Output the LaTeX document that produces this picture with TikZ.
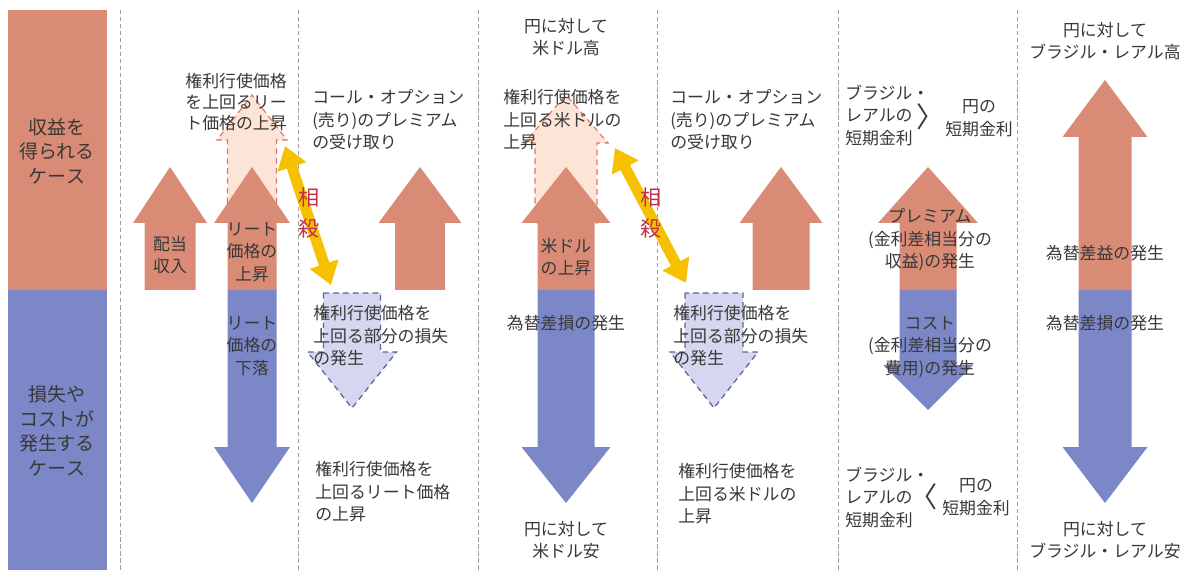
\documentclass[tikz,border=0pt]{standalone}
\usepackage{fontspec}
\setmainfont{Noto Sans CJK JP}
\usetikzlibrary{arrows.meta}

\definecolor{gainred}{HTML}{D98B76}
\definecolor{lossblue}{HTML}{7B87C6}
\definecolor{fadered}{HTML}{FCE4D7}
\definecolor{fadeblue}{HTML}{D4D7EF}
\definecolor{cutyellow}{HTML}{F6C100}
\definecolor{cuttext}{HTML}{C2304C}
\definecolor{inktext}{HTML}{383838}

% block arrow: style, centre x, start y, head base y, tip y, shaft half, head half
\newcommand{\blockarrow}[7]{\path[#1] (#2-#6,#3) -- (#2-#6,#4) -- (#2-#7,#4) -- (#2,#5) -- (#2+#7,#4) -- (#2+#6,#4) -- (#2+#6,#3) -- cycle;}

\begin{document}
\begin{tikzpicture}[x=0.025cm, y=-0.025cm,
    gain/.style={fill=gainred},
    loss/.style={fill=lossblue},
    gainfade/.style={fill=fadered, draw=gainred!85!red, dash pattern=on 4pt off 3pt, line width=0.8pt},
    lossfade/.style={fill=fadeblue, draw=lossblue!75!black, dash pattern=on 4pt off 3pt, line width=0.9pt},
    sep/.style={draw=gray!75, dash pattern=on 3pt off 2pt, line width=0.5pt},
    txt/.style={text=inktext, font=\fontsize{12}{16}\selectfont, inner sep=0pt, align=left},
    ctxt/.style={txt, align=center},
    chevron/.style={text=inktext, font=\fontsize{20}{22}\selectfont, inner sep=0pt},
    cut/.style={draw=cutyellow, line width=0.27cm, {Triangle[length=0.55cm,width=0.72cm]}-{Triangle[length=0.55cm,width=0.72cm]}},
    cutlabel/.style={text=cuttext, font=\fontsize{15}{22}\selectfont, inner sep=0pt, align=center}]
  \useasboundingbox (0,0) rectangle (1190,570);
  \fill[white] (0,0) rectangle (1190,570);

  % left column
  \fill[gain] (8,10) rectangle (107,290);
  \fill[loss] (8,290) rectangle (107,570);
  \node[ctxt, font=\fontsize{13.5}{17.5}\selectfont] (gainlab) at (57,151) {収益を\\得られる\\ケース};
  \node[ctxt, font=\fontsize{13.5}{17.5}\selectfont] (losslab) at (57,431) {損失や\\コストが\\発生する\\ケース};

  % separators
  \foreach \sx in {120,298,478,657,838,1017}
    \draw[sep] (\sx,10) -- (\sx,570);

  % REIT
  \blockarrow{gainfade}{252}{223}{140}{95}{24.5}{35}
  \blockarrow{gain}{170}{290}{223}{167}{25.5}{37}
  \blockarrow{gain}{252}{290}{223}{167}{24.5}{38}
  \blockarrow{loss}{252}{290}{447}{503}{24.5}{38}
  \blockarrow{gain}{420}{290}{223}{167}{25}{41.5}
  \blockarrow{lossfade}{352}{293}{352}{408}{28.5}{44.5}

  % USD
  \blockarrow{gainfade}{566}{223}{143}{95}{31}{42}
  \blockarrow{gain}{566}{290}{223}{167}{28.5}{44.5}
  \blockarrow{loss}{566}{290}{447}{503}{28.5}{44.5}
  \blockarrow{gain}{781}{290}{223}{167}{28.5}{41.5}
  \blockarrow{lossfade}{714}{293}{352}{408}{29}{44}

  % BRL
  \blockarrow{gain}{928}{290}{223}{167}{28.5}{50}
  \blockarrow{loss}{928}{290}{365}{410}{28.5}{45}
  \blockarrow{gain}{1105}{290}{137}{80}{26.5}{42.5}
  \blockarrow{loss}{1105}{290}{447}{503}{26.5}{42.5}

  % offsetting arrows
  \coordinate (cut1a) at (285,146);
  \coordinate (cut1b) at (331,285);
  \coordinate (cut2a) at (615,148);
  \coordinate (cut2b) at (686,283);
  \draw[cut] (cut1a) -- (cut1b);
  \draw[cut] (cut2a) -- (cut2b);
  \node[cutlabel] (cut1lab) at (309,213) {相\\殺};
  \node[cutlabel] (cut2lab) at (651,213) {相\\殺};

  % texts, REIT
  \node[txt, font=\fontsize{12}{14.8}\selectfont] (strike1) at (236,102) {権利行使価格\\を上回るリー\\ト価格の上昇};
  \node[ctxt] (div1) at (170,255) {配当\\収入};
  \node[ctxt] (reitup) at (252,252) {リート\\価格の\\上昇};
  \node[ctxt] (reitdown) at (252,346) {リート\\価格の\\下落};
  \node[txt, anchor=west] (prem1) at (312,120) {コール・オプション\\(売り)のプレミアム\\の受け取り};
  \node[txt, anchor=west] (loss1) at (313,336) {権利行使価格を\\上回る部分の損失\\の発生};
  \node[txt, anchor=west] (strike1b) at (315,492) {権利行使価格を\\上回るリート価格\\の上昇};

  % texts, USD
  \node[ctxt] (usdhigh) at (566,37) {円に対して\\米ドル高};
  \node[txt, anchor=west] (strike2) at (503,120) {権利行使価格を\\上回る米ドルの\\上昇};
  \node[ctxt] (usdup) at (566,257) {米ドル\\の上昇};
  \node[ctxt] (fxloss2) at (566,323) {為替差損の発生};
  \node[ctxt] (usdlow) at (566,540) {円に対して\\米ドル安};
  \node[txt, anchor=west] (prem2) at (670,120) {コール・オプション\\(売り)のプレミアム\\の受け取り};
  \node[txt, anchor=west] (loss2) at (673,336) {権利行使価格を\\上回る部分の損失\\の発生};
  \node[txt, anchor=west] (strike2b) at (678,494) {権利行使価格を\\上回る米ドルの\\上昇};

  % texts, BRL
  \node[txt, anchor=west] (brlrate1) at (845,115) {ブラジル・\\レアルの\\短期金利};
  \node[chevron] (gt) at (931,117) {\makebox[0pt]{〉}};
  \node[ctxt] (yenrate1) at (979,118) {円の\\短期金利};
  \node[ctxt] (premium5) at (930,240) {プレミアム\\(金利差相当分の\\収益)の発生};
  \node[ctxt] (cost5) at (930,347) {コスト\\(金利差相当分の\\費用)の発生};
  \node[txt, anchor=west] (brlrate2) at (845,497) {ブラジル・\\レアルの\\短期金利};
  \node[chevron] (lt) at (924,497) {\makebox[0pt]{〈}};
  \node[ctxt] (yenrate2) at (976,497) {円の\\短期金利};
  \node[ctxt] (brlhigh) at (1105,41) {円に対して\\ブラジル・レアル高};
  \node[ctxt] (fxgain6) at (1105,253) {為替差益の発生};
  \node[ctxt] (fxloss6) at (1105,323) {為替差損の発生};
  \node[ctxt] (brllow) at (1105,540) {円に対して\\ブラジル・レアル安};
\end{tikzpicture}
\end{document}
